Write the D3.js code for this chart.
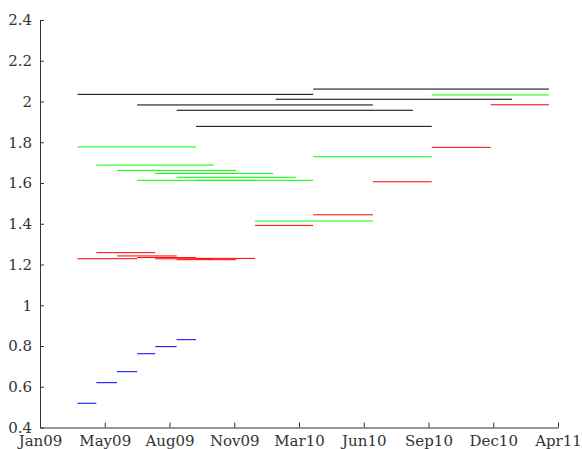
<!DOCTYPE html>
<html>
<head>
<meta charset="utf-8">
<script src="https://cdn.jsdelivr.net/npm/d3@7"></script>
<style>
  html, body { margin: 0; padding: 0; background: #fff; }
  svg { display: block; }
  .axis text { font-family: "DejaVu Serif", serif; font-size: 15px; fill: #333; }
  .axis path, .axis line { stroke: #333; stroke-width: 1; }
</style>
</head>
<body>
<svg id="chart" width="582" height="449"></svg>
<script>
// Forward-rate segments by tenor: each one holds a constant value between a start and an end date.
const oneMonthStart = ["2009-03-26", "2009-04-24", "2009-05-26", "2009-06-26", "2009-07-24", "2009-08-26"];
const oneMonthEnd   = ["2009-04-24", "2009-05-26", "2009-06-26", "2009-07-24", "2009-08-26", "2009-09-25"];
const oneMonthValue = [0.519, 0.620, 0.674, 0.762, 0.797, 0.831];

const threeMonthStart = ["2009-03-26", "2009-04-24", "2009-05-26", "2009-06-26", "2009-07-24", "2009-08-26",
                         "2009-09-25", "2009-12-25", "2010-03-25", "2010-06-25", "2010-09-24", "2010-12-24"];
const threeMonthEnd   = ["2009-06-26", "2009-07-24", "2009-08-26", "2009-09-25", "2009-10-22", "2009-11-26",
                         "2009-12-25", "2010-03-25", "2010-06-25", "2010-09-24", "2010-12-24", "2011-03-24"];
const threeMonthValue = [1.2285, 1.258, 1.242, 1.234, 1.228, 1.2235,
                         1.230, 1.392, 1.444, 1.606, 1.775, 1.984];

const sixMonthStart = ["2009-03-26", "2009-04-24", "2009-05-26", "2009-06-26", "2009-07-24", "2009-08-26",
                       "2009-09-25", "2009-12-25", "2010-03-25", "2010-09-24"];
const sixMonthEnd   = ["2009-09-25", "2009-10-22", "2009-11-26", "2009-12-25", "2010-01-22", "2010-02-26",
                       "2010-03-25", "2010-06-25", "2010-09-24", "2011-03-24"];
const sixMonthValue = [1.777, 1.688, 1.662, 1.613, 1.647, 1.628,
                       1.613, 1.4135, 1.729, 2.032];

const twelveMonthStart = ["2009-03-26", "2009-06-26", "2009-08-26", "2009-09-25", "2010-01-26", "2010-03-25"];
const twelveMonthEnd   = ["2010-03-25", "2010-06-25", "2010-08-26", "2010-09-24", "2011-01-26", "2011-03-24"];
const twelveMonthValue = [2.035, 1.983, 1.957, 1.878, 2.011, 2.061];

// Axis ticks: dates 100 days apart, labelled month+year.
const xTickDates  = ["2009-01-27", "2009-05-07", "2009-08-15", "2009-11-23", "2010-03-03",
                     "2010-06-11", "2010-09-19", "2010-12-28", "2011-04-07"];
const xTickLabels = ["Jan09", "May09", "Aug09", "Nov09", "Mar10", "Jun10", "Sep10", "Dec10", "Apr11"];
const yTicks = [0.4, 0.6, 0.8, 1.0, 1.2, 1.4, 1.6, 1.8, 2.0, 2.2, 2.4];

const parse = d3.utcParse("%Y-%m-%d");
const tickDates = xTickDates.map(parse);

const svg = d3.select("#chart");
const plotLeft = 40, plotRight = 558, plotTop = 20, plotBottom = 427.5;

const x = d3.scaleUtc()
  .domain([tickDates[0], tickDates[tickDates.length - 1]])
  .range([plotLeft, plotRight]);
const y = d3.scaleLinear()
  .domain([0.4, 2.4])
  .range([plotBottom, plotTop]);

function segments(starts, ends, values) {
  return starts.map((s, i) => ({ start: parse(s), end: parse(ends[i]), value: values[i] }));
}

const series = [
  { color: "#000000", data: segments(twelveMonthStart, twelveMonthEnd, twelveMonthValue) },
  { color: "#00ff00", data: segments(sixMonthStart, sixMonthEnd, sixMonthValue) },
  { color: "#ff0000", data: segments(threeMonthStart, threeMonthEnd, threeMonthValue) },
  { color: "#0000ff", data: segments(oneMonthStart, oneMonthEnd, oneMonthValue) }
];

// Axes: left and bottom only, ticks pointing inward.
svg.append("g")
  .attr("class", "axis")
  .attr("transform", `translate(${plotLeft},0)`)
  .call(d3.axisLeft(y)
    .tickValues(yTicks)
    .tickFormat(d => String(+d.toFixed(1)))
    .tickSizeInner(-4)
    .tickSizeOuter(0)
    .tickPadding(8));

const xAxis = svg.append("g")
  .attr("class", "axis")
  .attr("transform", `translate(0,${plotBottom})`)
  .call(d3.axisBottom(x)
    .tickValues(tickDates)
    .tickFormat((d, i) => xTickLabels[i])
    .tickSizeInner(-5)
    .tickSizeOuter(0));
xAxis.selectAll("text").attr("y", 18).attr("dy", 0);

// Segments
const plot = svg.append("g");
series.forEach(s => {
  plot.append("g")
    .selectAll("line")
    .data(s.data)
    .join("line")
    .attr("x1", d => x(d.start))
    .attr("x2", d => x(d.end))
    .attr("y1", d => y(d.value))
    .attr("y2", d => y(d.value))
    .attr("stroke", s.color)
    .attr("stroke-width", 1);
});
</script>
</body>
</html>
